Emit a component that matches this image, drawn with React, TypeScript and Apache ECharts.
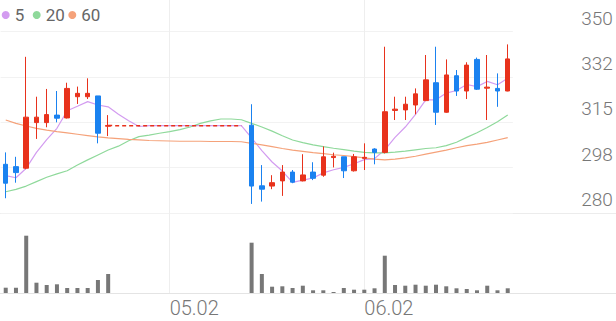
import React, { useEffect, useRef } from "react";
import * as echarts from "echarts";

const dates = [
  "04.09", "04.10", "04.11", "04.14", "04.15", "04.16", "04.17", "04.18", "04.21", "04.22",
  "04.23", "04.24", "04.25", "04.28", "04.29", "04.30", "05.02", "05.07", "05.08", "05.09",
  "05.12", "05.13", "05.14", "05.15", "05.16", "05.19", "05.20", "05.21", "05.22", "05.23",
  "05.26", "05.27", "05.28", "05.29", "05.30", "06.02", "06.04", "06.05", "06.09", "06.10",
  "06.11", "06.12", "06.13", "06.16", "06.17", "06.18", "06.19", "06.20", "06.23", "06.24",
];
const shownDates = ["05.02", "06.02"];

const N = null;
const opens = [
  298.8, 297.9, 297.3, 314.9, 314.9, 317.8, 316.7, 324.9, 324.9, 325.2, 313.5,
  N, N, N, N, N, N, N, N, N, N, N, N, N,
  313.9, 290.5, 290.4, 292.4, 295.8, 292.4, 295.8, 294.6, 301.4, 301.7, 296.3, 301.1, 304.7,
  303.4, 319.6, 319.8, 321.7, 323.4, 330.3, 318.9, 333.0, 327.1, 339.3, 328.2, 328.1, 327.1,
];
const closes = [
  291.5, 295.6, 317.0, 317.0, 318.0, 316.6, 328.1, 326.2, 326.2, 310.8, 313.8,
  N, N, N, N, N, N, N, N, N, N, N, N, N,
  290.4, 289.2, 291.7, 295.8, 291.9, 294.7, 293.4, 301.7, 301.9, 296.3, 301.7, 301.5, 303.4,
  319.1, 320.1, 322.0, 326.0, 331.4, 318.9, 333.3, 327.1, 337.1, 327.8, 328.6, 327.1, 339.5,
];
const lows = [
  285.7, 291.7, 296.9, 308.6, 313.1, 315.0, 316.5, 322.1, 324.0, 306.9, 309.7,
  N, N, N, N, N, N, N, N, N, N, N, N, N,
  283.5, 284.4, 289.2, 286.6, 291.5, 292.2, 292.7, 294.0, 297.6, 293.5, 296.0, 296.6, 298.8,
  303.0, 315.9, 315.9, 318.1, 323.2, 314.0, 318.7, 325.2, 324.0, 327.5, 315.9, 321.0, 327.0,
];
const highs = [
  303.4, 301.7, 340.3, 324.9, 327.9, 327.1, 330.3, 328.8, 332.0, 325.2, 317.8,
  N, N, N, N, N, N, N, N, N, N, N, N, N,
  322.0, 298.5, 294.6, 298.5, 296.6, 302.7, 299.6, 305.7, 303.3, 301.7, 302.8, 306.9, 305.0,
  344.2, 324.9, 324.9, 328.1, 341.0, 344.2, 339.3, 335.2, 338.2, 340.0, 341.0, 333.9, 345.1,
];
// flat price during the trading halt (dashed)
const haltLine = [
  N, N, N, N, N, N, N, N, N, N, 313.8,
  313.7, 313.7, 313.7, 313.7, 313.7, 313.7, 313.7, 313.7, 313.7, 313.7, 313.7, 313.7, 313.7,
  N, N, N, N, N, N, N, N, N, N, N, N, N,
  N, N, N, N, N, N, N, N, N, N, N, N, N,
];
const volumes = [
  53, 53, 573, 103, 80, 87, 50, 50, 50, 130, 190,
  N, N, N, N, N, N, N, N, N, N, N, N, N,
  503, 190, 63, 67, 50, 73, 27, 27, 10, 50, 33, 33, 47,
  373, 80, 73, 83, 73, 83, 67, 47, 40, 27, 73, 27, 47,
];
const ma5 = [
  294.4, 293.6, 297.3, 303.4, 308.3, 312.7, 319.5, 321.2, 323.0, 321.7, 321.0,
  318.1, 315.6, 313.4, 313.7, 313.7, 313.7, 313.7, 313.7, 313.7, 313.7, 313.7, 313.7, 313.7,
  309.0, 304.1, 299.7, 296.2, 291.8, 292.7, 293.5, 295.5, 296.7, 297.6, 299.0, 300.6, 301.0,
  304.4, 309.2, 313.2, 318.1, 323.7, 323.7, 326.3, 327.3, 329.6, 328.8, 330.8, 329.5, 332.0,
];
const ma20 = [
  288.2, 289.1, 290.4, 292.1, 293.8, 295.1, 296.3, 298.5, 300.5, 302.4, 304.3,
  305.8, 307.9, 309.5, 310.1, 310.8, 311.4, 312.2, 313.2, 314.6, 315.6, 316.3, 316.3, 316.0,
  314.6, 313.2, 311.6, 309.8, 308.2, 307.2, 306.3, 305.6, 305.0, 304.5, 303.9, 303.4, 303.2,
  303.2, 303.5, 303.9, 304.4, 304.9, 305.2, 306.0, 307.3, 309.2, 311.0, 313.0, 315.2, 317.8,
];
const ma60 = [
  315.9, 314.6, 313.6, 312.7, 312.0, 311.4, 310.9, 310.4, 309.9, 309.4, 309.0,
  308.7, 308.4, 308.2, 308.0, 307.9, 307.8, 307.7, 307.7, 307.7, 307.6, 307.6, 307.6, 307.5,
  306.9, 306.3, 305.6, 304.9, 304.3, 303.8, 303.3, 302.9, 302.5, 302.2, 301.8, 301.3, 300.8,
  300.5, 300.8, 301.3, 301.9, 302.7, 303.5, 304.3, 305.2, 306.0, 306.6, 307.3, 308.2, 309.1,
];
const priceTicks = [280, 297.5, 315, 332.5, 350];
const tickLabels = ["280", "298", "315", "332", "350"];

const UP = "#e8321c";
const DOWN = "#1a82f0";
const C5 = "#d39cf0";
const C20 = "#8fd99b";
const C60 = "#f5a27a";

export default function App() {
  const ref = useRef<HTMLDivElement>(null);
  useEffect(() => {
    if (!ref.current) return;
    const chart = echarts.init(ref.current, null, { renderer: "svg" });
    const candle = dates.map((_, i) =>
      opens[i] == null ? "-" : [opens[i], closes[i], lows[i], highs[i]]
    );
    const dash = (a: (number | null)[]) => a.map((v) => (v == null ? "-" : v));
    const gridLeft = 0.6;
    const gridWidth = 512.25;
    const showFn = (_i: number, v: string) => shownDates.indexOf(v) >= 0;
    const legendBase = {
      top: 5,
      padding: 0,
      icon: "circle",
      itemWidth: 8,
      itemHeight: 8,
      selectedMode: false,
      textStyle: { fontSize: 17, color: "#666", fontFamily: "Roboto", lineHeight: 20 },
    };
    chart.setOption({
      animation: false,
      textStyle: { fontFamily: "Roboto" },
      grid: [
        { left: gridLeft, top: 31.7, width: gridWidth, height: 181.3 },
        { left: gridLeft, top: 215, width: gridWidth, height: 78 },
      ],
      legend: [
        { ...legendBase, left: 1.7, data: ["5"] },
        { ...legendBase, left: 32.7, data: ["20"] },
        { ...legendBase, left: 68.3, data: ["60"] },
      ],
      xAxis: [
        {
          type: "category",
          gridIndex: 0,
          data: dates,
          boundaryGap: true,
          axisLine: { show: false },
          axisTick: { show: false },
          axisLabel: { show: false },
          splitLine: { show: false },
        },
        {
          type: "category",
          gridIndex: 1,
          data: dates,
          boundaryGap: true,
          axisLine: { show: false },
          axisTick: {
            show: true,
            alignWithLabel: true,
            inside: true,
            length: 293,
            interval: showFn,
            lineStyle: { color: "#eeeeee", width: 1 },
          },
          axisLabel: {
            interval: showFn,
            align: "left",
            margin: 5,
            fontSize: 20,
            fontWeight: 300,
            color: "#777",
          },
          splitLine: { show: false },
        },
      ],
      yAxis: [
        {
          type: "value",
          gridIndex: 0,
          position: "right",
          min: priceTicks[0],
          max: priceTicks[priceTicks.length - 1],
          interval: priceTicks[1] - priceTicks[0],
          axisLine: { show: false },
          axisTick: { show: false },
          splitLine: { show: true, lineStyle: { color: "#f2f2f2", width: 1 } },
          axisLabel: {
            margin: 100,
            align: "right",
            verticalAlign: "bottom",
            padding: [0, 0, 4, 0],
            fontSize: 19,
            fontWeight: 300,
            color: "#777",
            formatter: (v: number) => {
              const k = priceTicks.findIndex((t) => Math.abs(t - v) < 0.01);
              return k >= 0 ? tickLabels[k] : "";
            },
          },
        },
        {
          type: "value",
          gridIndex: 1,
          min: 0,
          max: 780,
          show: false,
          splitLine: { show: false },
        },
      ],
      graphic: [
        {
          type: "line",
          silent: true,
          z: -1,
          shape: { x1: 0, y1: 213.5, x2: 616, y2: 213.5 },
          style: { stroke: "#ececec", lineWidth: 1 },
        },
        {
          type: "line",
          silent: true,
          z: -1,
          shape: { x1: 0, y1: 293.5, x2: 616, y2: 293.5 },
          style: { stroke: "#e4e4e4", lineWidth: 1 },
        },
      ],
      series: [
        {
          name: "5",
          type: "line",
          xAxisIndex: 0,
          yAxisIndex: 0,
          data: dash(ma5),
          showSymbol: false,
          color: C5,
          lineStyle: { color: C5, width: 1.2 },
          z: 3,
        },
        {
          name: "20",
          type: "line",
          xAxisIndex: 0,
          yAxisIndex: 0,
          data: dash(ma20),
          showSymbol: false,
          color: C20,
          lineStyle: { color: C20, width: 1.2 },
          z: 3,
        },
        {
          name: "60",
          type: "line",
          xAxisIndex: 0,
          yAxisIndex: 0,
          data: dash(ma60),
          showSymbol: false,
          color: C60,
          lineStyle: { color: C60, width: 1.2 },
          z: 3,
        },
        {
          name: "halt",
          type: "line",
          xAxisIndex: 0,
          yAxisIndex: 0,
          data: dash(haltLine),
          showSymbol: false,
          color: UP,
          lineStyle: { color: UP, width: 1.5, type: [4, 3] },
          z: 4,
        },
        {
          name: "price",
          type: "candlestick",
          xAxisIndex: 0,
          yAxisIndex: 0,
          data: candle,
          barWidth: 5,
          itemStyle: {
            color: UP,
            color0: DOWN,
            borderColor: UP,
            borderColor0: DOWN,
            borderWidth: 1,
          },
          z: 5,
        },
        {
          name: "volume",
          type: "bar",
          xAxisIndex: 1,
          yAxisIndex: 1,
          data: dash(volumes),
          barWidth: 4,
          itemStyle: { color: "#777777" },
        },
      ],
    });
    return () => chart.dispose();
  }, []);
  return (
    <div
      ref={ref}
      style={{ position: "fixed", left: 0, top: 0, width: 616, height: 321, background: "#fff" }}
    />
  );
}
